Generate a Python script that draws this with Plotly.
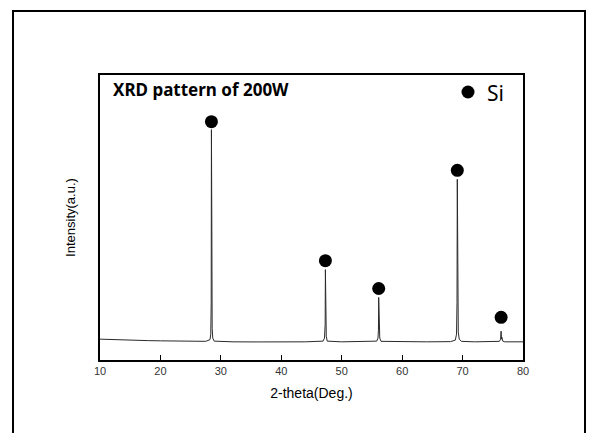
import plotly.graph_objects as go

# XRD pattern (2-theta in degrees, intensity in a.u.)
two_theta = [10.0, 12.0, 14.0, 16.0, 18.0, 20.0, 22.0, 24.0, 26.0, 27.5, 28.2, 28.33, 28.40, 28.44, 28.47, 28.51, 28.56, 28.66, 28.9,
             32.0, 36.0, 40.0, 44.0, 46.9, 47.15, 47.26, 47.30, 47.34, 47.38, 47.44, 47.6,
             50.0, 54.0, 55.8, 56.00, 56.08, 56.12, 56.17, 56.22, 56.30, 56.5,
             60.0, 64.0, 68.0, 68.8, 69.00, 69.08, 69.13, 69.17, 69.22, 69.29, 69.45, 69.8,
             72.0, 75.0, 76.1, 76.30, 76.38, 76.43, 76.50, 76.65, 77.0, 80.0]
intensity = [3.0, 2.5, 2.0, 1.8, 1.5, 1.3, 1.0, 0.8, 0.6, 0.8, 2.5, 8.0, 40.0, 214.0, 60.0, 112.0, 14.0, 4.0, 1.0,
             0.3, 0.2, 0.2, 0.3, 1.0, 4.0, 18.0, 73.0, 20.0, 37.0, 6.0, 1.0,
             0.3, 0.3, 1.0, 4.0, 12.0, 45.0, 14.0, 24.0, 4.0, 0.8,
             0.3, 0.3, 0.5, 2.0, 8.0, 40.0, 164.0, 50.0, 84.0, 10.0, 3.0, 0.8,
             0.3, 0.3, 0.8, 3.0, 11.0, 3.0, 5.0, 1.0, 0.3, 0.3]

# Si peak markers
si_pos = [28.44, 47.30, 56.12, 69.13, 76.38]
si_mark = [222.0, 82.0, 54.0, 173.0, 25.0]

title_text = "XRD pattern of 200W"
legend_label = "Si"
x_title = "2-theta(Deg.)"
y_title = "Intensity(a.u.)"
x_ticks = [10, 20, 30, 40, 50, 60, 70, 80]

fig = go.Figure()
fig.add_trace(go.Scatter(x=two_theta, y=intensity, mode="lines",
                         line=dict(color="#2a2a2a", width=1), showlegend=False,
                         hoverinfo="skip"))
fig.add_trace(go.Scatter(x=si_pos, y=si_mark, mode="markers",
                         marker=dict(color="black", size=13), showlegend=False))

W, H = 598, 433
L, R, T, B = 100, 75, 75, 73
pw, ph = W - L - R, H - T - B

def px(xp):
    return (xp - L) / pw

def py(yp):
    return (H - B - yp) / ph

# legend-like marker and label
fig.add_shape(type="circle", xref="paper", yref="paper",
              x0=px(461.5), x1=px(474.5), y0=py(98.5), y1=py(85.5),
              fillcolor="black", line=dict(color="black", width=0))
fig.add_annotation(xref="paper", yref="paper", x=px(485), y=py(93), text=legend_label,
                   showarrow=False, xanchor="left", yanchor="middle",
                   font=dict(family="Noto Sans", size=21, color="black"))
fig.add_annotation(xref="paper", yref="paper", x=px(111), y=py(89), text="<b>%s</b>" % title_text,
                   showarrow=False, xanchor="left", yanchor="middle",
                   font=dict(family="Noto Sans", size=17, color="black"))

# outer frame (left, top, right)
fig.add_shape(type="path", xref="paper", yref="paper",
              path="M %f %f L %f %f L %f %f L %f %f" % (px(13), py(440), px(13), py(11), px(585), py(11), px(585), py(440)),
              line=dict(color="black", width=2))

fig.update_xaxes(range=[10, 80], tickvals=x_ticks, ticks="inside", ticklen=5, tickwidth=1,
                 tickcolor="black", showline=True, linecolor="black", linewidth=1.5, mirror=True,
                 showgrid=False, zeroline=False,
                 tickfont=dict(family="Liberation Sans", size=11, color="#333"),
                 title=dict(text=x_title, font=dict(family="Liberation Sans", size=14, color="black"), standoff=12))
fig.update_yaxes(range=[-18, 269], showticklabels=False, ticks="", showline=True, linecolor="black",
                 linewidth=1.5, mirror=True, showgrid=False, zeroline=False,
                 title=dict(text=y_title, font=dict(family="Liberation Sans", size=13, color="black"), standoff=20))

fig.update_layout(width=W, height=H, margin=dict(l=L, r=R, t=T, b=B),
                  plot_bgcolor="white", paper_bgcolor="white")
fig.write_html("out.html")
